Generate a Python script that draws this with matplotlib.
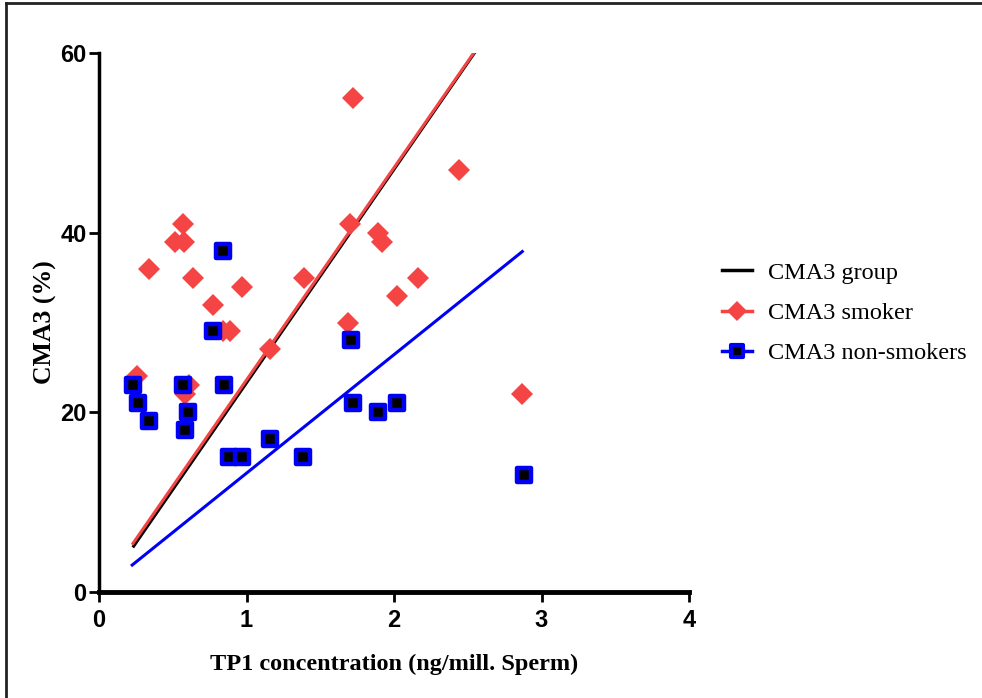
import matplotlib
matplotlib.use("Agg")
import matplotlib.pyplot as plt
from matplotlib.lines import Line2D
from matplotlib.markers import MarkerStyle
from matplotlib import font_manager

# --- data ---
smoker_x = [0.26, 0.34, 0.515, 0.576, 0.57, 0.64, 0.58, 0.61, 0.775, 0.84, 0.89,
            0.97, 1.16, 1.39, 1.69, 1.72, 1.70, 1.89, 1.92, 2.02, 2.165, 2.44, 2.87]
smoker_y = [24, 36, 39, 39, 41, 35, 22, 23, 32, 29, 29,
            34, 27, 35, 30, 55, 41, 40, 39, 33, 35, 47, 22]

nonsmoker_x = [0.23, 0.267, 0.34, 0.572, 0.606, 0.583, 0.85, 0.775, 0.843, 0.88,
               0.97, 1.16, 1.385, 1.706, 1.72, 1.89, 2.02, 2.88]
nonsmoker_y = [23, 21, 19, 23, 20, 18, 23, 29, 38, 15,
               15, 17, 15, 28, 21, 20, 21, 13]

# fitted lines (end points as drawn)
group_line_x = [0.235, 2.545]
group_line_y = [5.1, 60]
smoker_line_x = [0.23, 2.54]
smoker_line_y = [5.4, 60]
nonsmoker_line_x = [0.225, 2.87]
nonsmoker_line_y = [3.0, 37.9]

x_ticks = [0, 1, 2, 3, 4]
y_ticks = [0, 20, 40, 60]

red = "#f44444"
blue = "#0000f5"

names = {f.name for f in font_manager.fontManager.ttflist}
tick_font = "Liberation Sans Narrow" if "Liberation Sans Narrow" in names else "Liberation Sans"
label_font = "Liberation Serif"

fig = plt.figure(figsize=(9.82, 6.98), dpi=100)
ax = fig.add_axes([99 / 982, 106 / 698, 590 / 982, 539 / 698])

# regression lines
ax.plot(group_line_x, group_line_y, '-', color='black', lw=2.2, zorder=2)
ax.plot(smoker_line_x, smoker_line_y, '-', color=red, lw=2.2, zorder=3)
ax.plot(nonsmoker_line_x, nonsmoker_line_y, '-', color=blue, lw=2.2, zorder=3)

# points
ax.plot(smoker_x, smoker_y, 'D', color=red, markersize=11, markeredgewidth=0,
        linestyle='none', zorder=4)
sq = MarkerStyle('s', joinstyle='round')
ax.plot(nonsmoker_x, nonsmoker_y, marker=sq, linestyle='none', markersize=9.5,
        markerfacecolor='black', markeredgecolor=blue, markeredgewidth=3.2, zorder=5)

ax.set_xlim(0, 4)
ax.set_ylim(0, 60)
ax.set_xticks(x_ticks)
ax.set_yticks(y_ticks)
ax.set_xticklabels([str(t) for t in x_ticks], fontfamily=tick_font, fontweight='bold', fontsize=17)
ax.set_yticklabels([str(t) for t in y_ticks], fontfamily=tick_font, fontweight='bold', fontsize=17)
ax.tick_params(axis='both', length=7, width=2, pad=2, colors='black')
ax.tick_params(axis='x', pad=5)
for side in ['top', 'right']:
    ax.spines[side].set_visible(False)
ax.spines['left'].set_linewidth(2.5)
ax.spines['bottom'].set_linewidth(3.5)
ax.patch.set_alpha(0)

ax.set_xlabel("TP1 concentration (ng/mill. Sperm)", fontfamily=label_font,
              fontweight='bold', fontsize=17.5, labelpad=16)
ax.set_ylabel("CMA3 (%)", fontfamily=label_font, fontweight='bold', fontsize=18.5, labelpad=2)

handles = [
    Line2D([], [], color='black', lw=2.5),
    Line2D([], [], color=red, lw=2.5, marker='D', markersize=10.5, markeredgewidth=0),
    Line2D([], [], color=blue, lw=2.5, marker=sq, markersize=8.5, markerfacecolor='black',
           markeredgecolor=blue, markeredgewidth=3),
]
labels = ["CMA3 group", "CMA3 smoker", "CMA3 non-smokers"]
fig.legend(handles, labels, loc='upper left', bbox_to_anchor=(700 / 982, 1 - 240 / 698),
           frameon=False, prop={'family': label_font, 'size': 17.5},
           handlelength=1.25, handletextpad=0.65, labelspacing=0.75)

# outer frame (top and left edges visible)
fig.add_artist(Line2D([6 / 982, 1], [1 - 3 / 698, 1 - 3 / 698], transform=fig.transFigure,
                      color='#222222', lw=2))
fig.add_artist(Line2D([6 / 982, 6 / 982], [0, 1 - 3 / 698], transform=fig.transFigure,
                      color='#222222', lw=2))

fig.savefig("out.png", dpi=100)
